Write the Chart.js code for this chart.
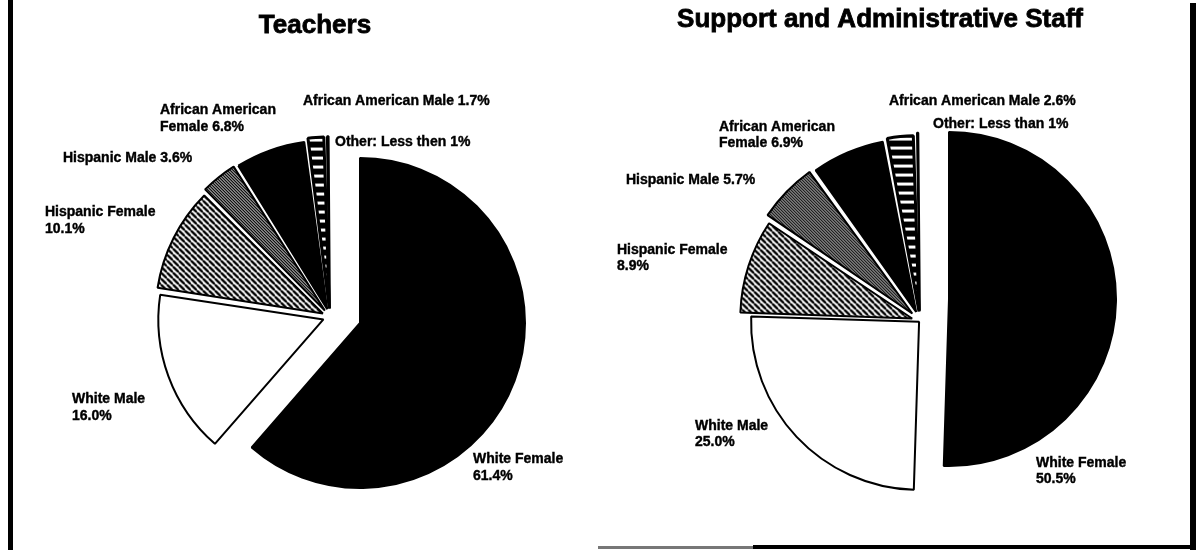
<!DOCTYPE html>
<html>
<head>
<meta charset="utf-8">
<title>Staff by group</title>
<script src="https://cdn.jsdelivr.net/npm/chart.js@4.4.1/dist/chart.umd.min.js"></script>
<style>
  html, body { margin: 0; padding: 0; background: #fff; overflow: hidden; }
  #page { position: relative; width: 1199px; height: 550px; }
  #page canvas { position: absolute; top: 0; }
  .rule { position: absolute; background: #000; }
</style>
</head>
<body>
<div id="page">
  <canvas id="teachersBase" width="600" height="550" style="left:0"></canvas>
  <canvas id="teachersRest" width="600" height="550" style="left:0"></canvas>
  <canvas id="staffBase" width="599" height="550" style="left:600px"></canvas>
  <canvas id="staffRest" width="599" height="550" style="left:600px"></canvas>
  <div class="rule" style="left:8px;top:0;width:5px;height:550px"></div>
  <div class="rule" style="left:1190px;top:3px;width:6px;height:547px"></div>
  <div class="rule" style="left:598px;top:546px;width:155px;height:3px;background:#777"></div>
  <div class="rule" style="left:753px;top:545px;width:443px;height:4px"></div>
</div>
<script>
// shares in percent, clockwise from twelve o'clock
const groups = ["White Female", "White Male", "Hispanic Female", "Hispanic Male",
  "African American Female", "African American Male", "Other"];
const teacherShares = [61.4, 16.0, 10.1, 3.6, 6.8, 1.7, 0.4];
const staffShares = [50.5, 25.0, 8.9, 5.7, 6.9, 2.6, 0.4];
const panelTitles = ["Teachers", "Support and Administrative Staff"];
const otherNotes = ["Less then 1%", "Less than 1%"];

// label anchors [x, baseline, wrap] in each panel's own canvas
const teacherSpots = [
  [473, 463, "below"], [72, 403, "below"], [45, 216, "below"], [63, 162, "inline"],
  [160, 114, "split"], [303, 105, "inline"], [335, 146, "inline"]
];
const staffSpots = [
  [436, 467, "below"], [95, 430, "below"], [17, 254, "below"], [26, 184, "inline"],
  [119, 131, "split"], [289, 105, "inline"], [333, 128, "inline"]
];

// pulled-out distance of each minor slice
const teacherOffsets = [0, 28, 32, 33, 33, 34, 34];
const staffOffsets = [0, 5, 33, 43, 39, 38, 41];

function tile(w, h, paint) {
  const c = document.createElement("canvas");
  c.width = w;
  c.height = h;
  const g = c.getContext("2d");
  paint(g, w, h);
  return g.createPattern(c, "repeat");
}

// "\" stripes, black on white
const backHatch = tile(6, 6, (g, s) => {
  g.fillStyle = "#fff";
  g.fillRect(0, 0, s, s);
  g.strokeStyle = "#000";
  g.lineWidth = 2.4;
  for (let k = -s; k <= s; k += s) {
    g.beginPath();
    g.moveTo(k, 0);
    g.lineTo(k + s, s);
    g.stroke();
  }
});

// fine screen
const stipple = tile(3, 3, g => {
  g.fillStyle = "#000";
  g.fillRect(0, 0, 3, 3);
  g.fillStyle = "#fff";
  g.fillRect(0, 0, 1, 1);
  g.fillRect(1, 1, 1, 1);
  g.fillRect(2, 2, 1, 1);
});

// white rungs on black
const rungs = tile(4, 9, g => {
  g.fillStyle = "#000";
  g.fillRect(0, 0, 4, 9);
  g.fillStyle = "#fff";
  g.fillRect(0, 3, 4, 3);
});

// "/" dashes, white on black
const fwdDash = tile(6, 6, (g, s) => {
  g.fillStyle = "#000";
  g.fillRect(0, 0, s, s);
  g.strokeStyle = "#fff";
  g.lineWidth = 1.5;
  for (let k = -s; k <= s; k += s) {
    g.beginPath();
    g.moveTo(k, s);
    g.lineTo(k + s, 0);
    g.stroke();
  }
});

const fills = ["#000", "#fff", backHatch, stipple, "#000", rungs, fwdDash];
const edges = [2, 2, 2, 2, 2, 3, 2];

function labelLines(i, shares, note, wrap) {
  const name = groups[i];
  if (name === "Other") return [name + ": " + note];
  const pct = shares[i].toFixed(1) + "%";
  if (wrap === "below") return [name, pct];
  if (wrap === "split") {
    const words = name.split(" ");
    return [words.slice(0, -1).join(" "), words[words.length - 1] + " " + pct];
  }
  return [name + " " + pct];
}

function panelText(panel) {
  return {
    id: "panelText",
    afterDraw(chart) {
      const ctx = chart.ctx;
      ctx.save();
      ctx.fillStyle = "#000";
      ctx.strokeStyle = "#000";
      ctx.textBaseline = "alphabetic";
      ctx.textAlign = "center";
      ctx.font = "bold 26px 'Liberation Sans', Arial, sans-serif";
      ctx.lineWidth = 0.8;
      ctx.fillText(panel.title, panel.titleX, panel.titleY);
      ctx.strokeText(panel.title, panel.titleX, panel.titleY);
      ctx.textAlign = "left";
      ctx.font = "bold 14px 'Liberation Sans', Arial, sans-serif";
      ctx.lineWidth = 0.4;
      panel.spots.forEach(([x, y, wrap], i) => {
        labelLines(i, panel.shares, panel.note, wrap).forEach((line, k) => {
          ctx.fillText(line, x, y + k * panel.lineGap);
          ctx.strokeText(line, x, y + k * panel.lineGap);
        });
      });
      ctx.restore();
    }
  };
}

// one layer of a pie; `show` picks which slices this layer paints
function pieLayer(id, shares, show, cx, cy, radius, offsets, extra) {
  const canvas = document.getElementById(id);
  return new Chart(canvas, {
    type: "pie",
    data: {
      labels: groups,
      datasets: [{
        data: shares,
        backgroundColor: fills.map((f, i) => show(i) ? f : "rgba(0,0,0,0)"),
        borderColor: "#000",
        borderWidth: edges.map((w, i) => show(i) ? w : 0),
        offset: offsets,
        radius: radius,
        clip: false
      }]
    },
    options: {
      responsive: false,
      animation: false,
      events: [],
      layout: { padding: { left: 2 * cx - canvas.width, top: 2 * cy - canvas.height } },
      plugins: { legend: { display: false }, tooltip: { enabled: false } }
    },
    plugins: extra ? [extra] : []
  });
}

const isMain = i => i === 0;
const isMinor = i => i > 0;

// Teachers: the white-female slice stays put, the rest are pulled out together
pieLayer("teachersBase", teacherShares, isMain, 360, 323, 165, teacherOffsets.map(() => 0),
  panelText({ title: panelTitles[0], titleX: 315, titleY: 33, spots: teacherSpots,
    shares: teacherShares, note: otherNotes[0], lineGap: 17 }));
pieLayer("teachersRest", teacherShares, isMinor, 330, 317, 164, teacherOffsets);

// Support and administrative staff
pieLayer("staffBase", staffShares, isMain, 349, 299, 167, staffOffsets.map(() => 0),
  panelText({ title: panelTitles[1], titleX: 280, titleY: 27, spots: staffSpots,
    shares: staffShares, note: otherNotes[1], lineGap: 16 }));
pieLayer("staffRest", staffShares, isMinor, 320, 321, 168, staffOffsets);
</script>
</body>
</html>
